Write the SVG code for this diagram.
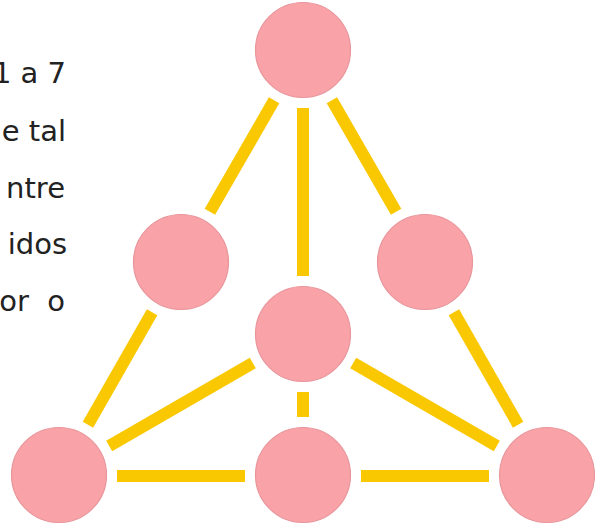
<svg xmlns="http://www.w3.org/2000/svg" width="595" height="526" viewBox="0 0 595 526">
<style>
.t{font-family:"DejaVu Sans","Verdana",sans-serif;font-size:29px;fill:#222;text-anchor:end;white-space:pre}
.n{fill:#F9A3A8;stroke:#E8959B;stroke-width:1.2}
.e{stroke:#F9C800;stroke-width:12;stroke-linecap:butt}
</style>
<rect width="595" height="526" fill="#fff"/>
<g id="text">
<text class="t" x="66" y="83">1 a 7</text>
<text class="t" x="66" y="141">e tal</text>
<text class="t" x="65" y="198">ntre</text>
<text class="t" x="67" y="254">idos</text>
<text class="t" x="65" y="311" xml:space="preserve">or  o</text>
</g>
<g id="connectors">
<line class="e" x1="274.1" y1="100.3" x2="209.9" y2="211.7"/>
<line class="e" x1="152.1" y1="312.3" x2="87.9" y2="424.7"/>
<line class="e" x1="331.9" y1="100.3" x2="396.1" y2="211.7"/>
<line class="e" x1="453.9" y1="312.3" x2="518.1" y2="424.7"/>
<line class="e" x1="303" y1="108" x2="303" y2="276"/>
<line class="e" x1="303" y1="392" x2="303" y2="417"/>
<line class="e" x1="252.8" y1="363" x2="109.2" y2="446"/>
<line class="e" x1="353.2" y1="363" x2="496.8" y2="446"/>
<line class="e" x1="117" y1="476" x2="245" y2="476"/>
<line class="e" x1="361" y1="476" x2="489" y2="476"/>
</g>
<g id="n1"><circle class="n" cx="303" cy="50" r="47.5"/></g>
<g id="n2"><circle class="n" cx="181" cy="262" r="47.5"/></g>
<g id="n3"><circle class="n" cx="425" cy="262" r="47.5"/></g>
<g id="n4"><circle class="n" cx="303" cy="334" r="47.5"/></g>
<g id="n5"><circle class="n" cx="59" cy="475" r="47.5"/></g>
<g id="n6"><circle class="n" cx="303" cy="475" r="47.5"/></g>
<g id="n7"><circle class="n" cx="547" cy="475" r="47.5"/></g>
</svg>
